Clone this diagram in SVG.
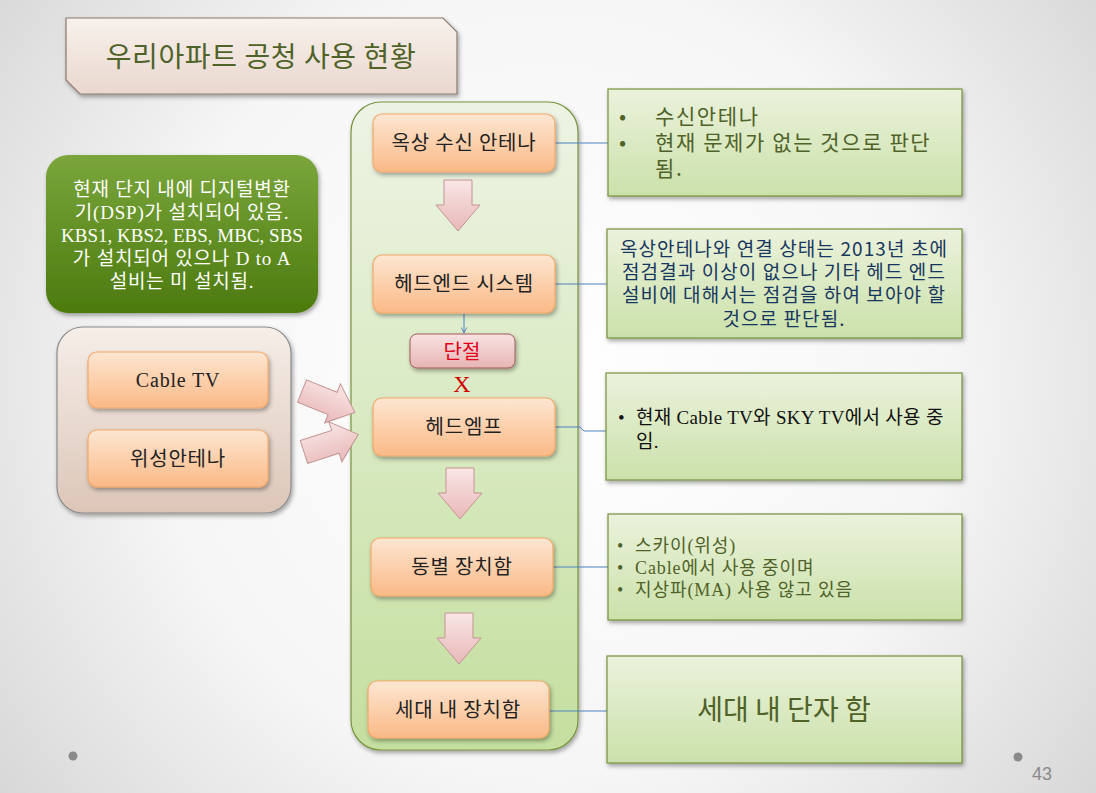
<svg xmlns="http://www.w3.org/2000/svg" width="1096" height="793" viewBox="0 0 1096 793">
<defs>
<radialGradient id="bg" cx="548" cy="380" r="720" gradientUnits="userSpaceOnUse">
<stop offset="0" stop-color="#ffffff"/><stop offset="0.55" stop-color="#f6f6f6"/><stop offset="1" stop-color="#d4d4d4"/>
</radialGradient>
<linearGradient id="gTitle" x1="0" y1="0" x2="0" y2="1"><stop offset="0" stop-color="#f8f1ec"/><stop offset="1" stop-color="#e9d8ce"/></linearGradient>
<linearGradient id="gDark" x1="0" y1="0" x2="0" y2="1"><stop offset="0" stop-color="#7aa63c"/><stop offset="1" stop-color="#4c7a0e"/></linearGradient>
<linearGradient id="gBeige" x1="0" y1="0" x2="0" y2="1"><stop offset="0" stop-color="#f6eee8"/><stop offset="1" stop-color="#dcc6b8"/></linearGradient>
<linearGradient id="gOrange" x1="0" y1="0" x2="0" y2="1"><stop offset="0" stop-color="#fde6d2"/><stop offset="0.5" stop-color="#fcd0ac"/><stop offset="1" stop-color="#fab987"/></linearGradient>
<linearGradient id="gMain" x1="0" y1="0" x2="0" y2="1"><stop offset="0" stop-color="#eef4e5"/><stop offset="1" stop-color="#c4df9f"/></linearGradient>
<linearGradient id="gNote" x1="0" y1="0" x2="0" y2="1"><stop offset="0" stop-color="#ebf2dc"/><stop offset="1" stop-color="#cbe1aa"/></linearGradient>
<linearGradient id="gPink" x1="0" y1="0" x2="0" y2="1"><stop offset="0" stop-color="#fae6e6"/><stop offset="1" stop-color="#e8b8b8"/></linearGradient>
<linearGradient id="gCut" x1="0" y1="0" x2="0" y2="1"><stop offset="0" stop-color="#f9e2e2"/><stop offset="1" stop-color="#e6b5b4"/></linearGradient>
<filter id="sh" x="-10%" y="-10%" width="130%" height="130%"><feDropShadow dx="1.5" dy="2.5" stdDeviation="2" flood-color="#000" flood-opacity="0.35"/></filter>
<marker id="ah" viewBox="0 0 10 10" refX="9" refY="5" markerWidth="7" markerHeight="7" orient="auto"><path d="M1,1 L9,5 L1,9" fill="none" stroke="#4f81bd" stroke-width="1.3"/></marker>
<path id="downArrow" d="M-14,0 H14 V25 H22 L0,51 L-22,25 H-14 Z"/>
<path id="rightArrow" d="M0,-12 H33 V-21 L57,0 L33,21 V12 H0 Z"/>
</defs>
<style>
.kr{font-family:"Noto Sans CJK KR","Noto Sans",sans-serif;}
.mix{font-family:"Liberation Serif","Noto Sans CJK KR",serif;}
.box{fill:url(#gOrange);stroke:#f2a868;stroke-width:1.2;filter:url(#sh);}
.note{fill:url(#gNote);stroke:#76923c;stroke-width:1.2;filter:url(#sh);}
.parr{fill:url(#gPink);stroke:#c49393;stroke-width:1;}
.lbl{font-size:20px;fill:#222;text-anchor:middle;letter-spacing:0.8px;}
.conn{stroke:#4f81bd;stroke-width:1;fill:none;}
.olive{fill:#4f6228;}
</style>
<rect width="1096" height="793" fill="url(#bg)"/>

<g id="title">
<path d="M66,18 H443 L457,32 V94 H80 L66,80 Z" fill="url(#gTitle)" stroke="#8c7a70" stroke-width="1.2" filter="url(#sh)"/>
<text x="261" y="67" class="kr olive" font-size="28" letter-spacing="0.6" text-anchor="middle">우리아파트 공청 사용 현황</text>
</g>

<g id="note-dsp">
<rect x="46" y="155" width="272" height="158" rx="22" fill="url(#gDark)" filter="url(#sh)"/>
<g class="mix" font-size="19" fill="#ffffff" text-anchor="middle" letter-spacing="0.8">
<text x="182" y="196">현재 단지 내에 디지털변환</text>
<text x="182" y="219">기(DSP)가 설치되어 있음.</text>
<text x="182" y="242" letter-spacing="0">KBS1, KBS2, EBS, MBC, SBS</text>
<text x="182" y="265">가 설치되어 있으나 D to A</text>
<text x="182" y="288">설비는 미 설치됨.</text>
</g>
</g>

<g id="sources">
<rect x="57" y="327" width="234" height="186" rx="26" fill="url(#gBeige)" stroke="#8a8a8a" stroke-width="1.2" filter="url(#sh)"/>
<g id="cable-tv">
<rect x="88" y="352" width="180" height="56" rx="9" class="box"/>
<text x="178" y="387" class="mix lbl" font-size="21" letter-spacing="0">Cable TV</text>
</g>
<g id="sat-antenna">
<rect x="88" y="430" width="180" height="57" rx="9" class="box"/>
<text x="178" y="466" class="kr lbl">위성안테나</text>
</g>
</g>

<g id="main-column">
<rect x="351" y="102" width="227" height="648" rx="30" fill="url(#gMain)" stroke="#77933c" stroke-width="1.2" filter="url(#sh)"/>
</g>

<g id="connectors">
<use href="#rightArrow" class="parr" transform="translate(302,391) rotate(22)"/>
<use href="#rightArrow" class="parr" transform="translate(304,452) rotate(-18)"/>
<use href="#downArrow" class="parr" transform="translate(458,180)"/>
<use href="#downArrow" class="parr" transform="translate(460,468)"/>
<use href="#downArrow" class="parr" transform="translate(459,613)"/>
<line x1="464" y1="314" x2="464" y2="333" class="conn" marker-end="url(#ah)"/>
<line x1="555" y1="143" x2="608" y2="143" class="conn"/>
<line x1="555" y1="284" x2="607" y2="284" class="conn"/>
<path d="M555,427 H580 L584,431 H606" class="conn"/>
<line x1="553" y1="567" x2="608" y2="567" class="conn"/>
<line x1="549" y1="711" x2="607" y2="711" class="conn"/>
</g>

<g id="rooftop-antenna">
<rect x="373" y="114" width="182" height="58" rx="9" class="box"/>
<text x="464" y="150" class="kr lbl">옥상 수신 안테나</text>
</g>
<g id="headend">
<rect x="373" y="255" width="182" height="58" rx="9" class="box"/>
<text x="464" y="291" class="kr lbl">헤드엔드 시스템</text>
</g>
<g id="cut">
<rect x="410" y="334" width="105" height="34" rx="7" fill="url(#gCut)" stroke="#a05a58" stroke-width="1" filter="url(#sh)"/>
<text x="462" y="359" class="kr" font-size="20" fill="#e0001a" text-anchor="middle">단절</text>
<text x="462" y="392" font-family="Liberation Serif,serif" font-size="24" fill="#d00000" text-anchor="middle">X</text>
</g>
<g id="head-amp">
<rect x="373" y="398" width="182" height="58" rx="9" class="box"/>
<text x="464" y="434" class="kr lbl">헤드엠프</text>
</g>
<g id="building-box">
<rect x="371" y="538" width="182" height="58" rx="9" class="box"/>
<text x="462" y="574" class="kr lbl">동별 장치함</text>
</g>
<g id="unit-box">
<rect x="368" y="681" width="181" height="57" rx="9" class="box"/>
<text x="458" y="717" class="kr lbl">세대 내 장치함</text>
</g>

<g id="note-1">
<rect x="608" y="89" width="354" height="107" class="note"/>
<g class="kr olive" font-size="21" letter-spacing="1.6">
<text x="619" y="124">•</text><text x="655" y="124">수신안테나</text>
<text x="619" y="150">•</text><text x="655" y="150">현재 문제가 없는 것으로 판단</text>
<text x="655" y="176">됨.</text>
</g>
</g>
<g id="note-2">
<rect x="607" y="229" width="355" height="109" class="note"/>
<g class="kr" font-size="19" fill="#17375e" text-anchor="middle" letter-spacing="1.1">
<text x="784" y="256">옥상안테나와 연결 상태는 2013년 초에</text>
<text x="784" y="279">점검결과 이상이 없으나 기타 헤드 엔드</text>
<text x="784" y="302">설비에 대해서는 점검을 하여 보아야 할</text>
<text x="784" y="326">것으로 판단됨.</text>
</g>
</g>
<g id="note-3">
<rect x="606" y="373" width="356" height="107" class="note"/>
<g class="mix" font-size="19" fill="#111" letter-spacing="0.3">
<text x="618" y="424">•</text><text x="636" y="424">현재 Cable TV와 SKY TV에서 사용 중</text>
<text x="636" y="448">임.</text>
</g>
</g>
<g id="note-4">
<rect x="608" y="514" width="354" height="106" class="note"/>
<g class="mix olive" font-size="18" letter-spacing="0.9">
<text x="617" y="552">•</text><text x="635" y="552">스카이(위성)</text>
<text x="617" y="574">•</text><text x="635" y="574">Cable에서 사용 중이며</text>
<text x="617" y="596">•</text><text x="635" y="596">지상파(MA) 사용 않고 있음</text>
</g>
</g>
<g id="note-5">
<rect x="607" y="656" width="355" height="107" class="note"/>
<text x="784" y="720" class="kr olive" font-size="28" text-anchor="middle">세대 내 단자 함</text>
</g>

<g id="footer">
<circle cx="73" cy="756" r="4.5" fill="#8a8a8a"/>
<circle cx="1018" cy="757" r="4.5" fill="#8a8a8a"/>
<text x="1042" y="780" font-family="Liberation Sans,sans-serif" font-size="18" fill="#8a8a8a" text-anchor="middle">43</text>
</g>
</svg>
